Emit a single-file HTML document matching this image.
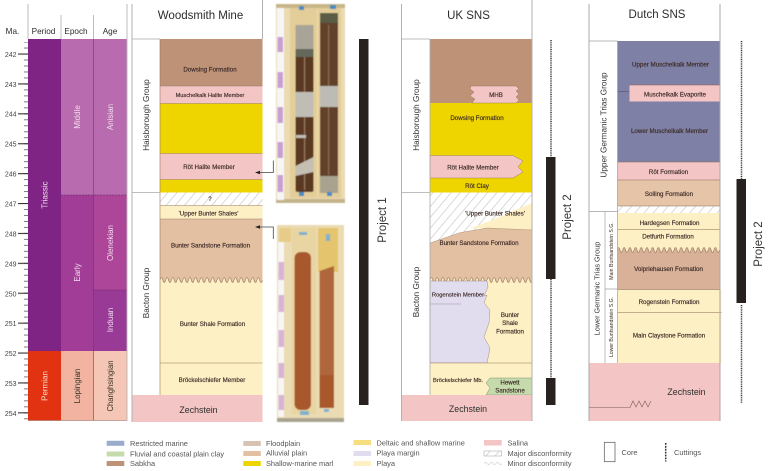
<!DOCTYPE html>
<html><head><meta charset="utf-8"><style>
html,body{margin:0;padding:0;background:#fff}
svg{display:block}
text{font-family:"Liberation Sans",sans-serif}
.f{font-size:6.2px;fill:#3b2a26;text-anchor:middle;stroke:#3b2a26;stroke-width:.15}
.h{font-size:11.5px;fill:#2c2c2c;text-anchor:middle}
.c{font-size:8.2px;fill:#2c2c2c;text-anchor:middle}
.t{font-size:7px;fill:#444;text-anchor:end}
.w{font-size:8px;fill:#f2dcec;text-anchor:middle}
.g{font-size:8.2px;fill:#333;text-anchor:middle}
.p{font-size:11.5px;fill:#333;text-anchor:middle}
.l{font-size:7.4px;fill:#555}
</style></head><body>
<svg width="768" height="471" viewBox="0 0 768 471" xmlns="http://www.w3.org/2000/svg">
<defs>
<pattern id="minor" patternUnits="userSpaceOnUse" width="5" height="5.98" y="54"><rect width="5" height=".8" y="-.4" fill="#555"/><rect width="5" height=".6" y="5.6" fill="#555"/></pattern>
<pattern id="major" patternUnits="userSpaceOnUse" width="10" height="29.9" y="53.5"><rect width="10" height="1.1" fill="#333"/></pattern>
<pattern id="hatch" patternUnits="userSpaceOnUse" width="7" height="7" patternTransform="rotate(40)"><rect width="7" height="7" fill="#fff"/><rect x="0" width=".6" height="7" fill="#c2c2c2"/></pattern>
<pattern id="w1" patternUnits="userSpaceOnUse" width="5.7" height="7" x="160" y="276.5"><rect width="5.7" height="7" fill="#e4c0a3"/><path d="M0 3.5Q1.42 -1.5 2.85 3.5Q4.27 8.5 5.7 3.5V7H0Z" fill="#fdf0c4"/><path d="M0 3.5Q1.42 -1.5 2.85 3.5Q4.27 8.5 5.7 3.5" fill="none" stroke="#8a6a52" stroke-width=".6"/></pattern>
<pattern id="w2" patternUnits="userSpaceOnUse" width="5.7" height="7" x="430" y="276.5"><rect width="5.7" height="7" fill="#e4c0a3"/><path d="M0 3.5Q1.42 -1.5 2.85 3.5Q4.27 8.5 5.7 3.5V7H0Z" fill="#fdf0c4"/><path d="M0 3.5Q1.42 -1.5 2.85 3.5Q4.27 8.5 5.7 3.5" fill="none" stroke="#8a6a52" stroke-width=".6"/></pattern>
<pattern id="w3" patternUnits="userSpaceOnUse" width="5.7" height="7" x="617" y="246.5"><rect width="5.7" height="7" fill="#fdf0c4"/><path d="M0 3.5Q1.42 -1.5 2.85 3.5Q4.27 8.5 5.7 3.5V7H0Z" fill="#d9b199"/><path d="M0 3.5Q1.42 -1.5 2.85 3.5Q4.27 8.5 5.7 3.5" fill="none" stroke="#8a6a52" stroke-width=".6"/></pattern>
<filter id="b" x="-5%" y="-5%" width="110%" height="110%"><feGaussianBlur stdDeviation=".6"/></filter>
</defs>

<!-- Time scale -->
<rect x="24" y="42" width="4" height="378" fill="url(#minor)"/>
<rect x="18" y="53" width="10" height="362" fill="url(#major)"/>
<g class="t">
<text x="16.5" y="57">242</text><text x="16.5" y="87">243</text><text x="16.5" y="116.500">244</text><text x="16.5" y="146.500">245</text><text x="16.500" y="176.500">246</text><text x="16.500" y="206.500">247</text><text x="16.500" y="236.500">248</text><text x="16.500" y="266.500">249</text><text x="16.500" y="296.500">250</text><text x="16.500" y="326">251</text><text x="16.500" y="356">252</text><text x="16.500" y="386">253</text><text x="16.500" y="416">254</text>
</g>
<rect x="28" y="39" width="33" height="312" fill="#7f2484"/>
<rect x="28" y="351" width="33" height="69.500" fill="#e13312"/>
<rect x="61" y="39" width="32.500" height="156" fill="#b86bae"/>
<rect x="61" y="195" width="32.500" height="156" fill="#a13d96"/>
<rect x="61" y="351" width="32.500" height="69.500" fill="#f2b3a0"/>
<rect x="93.500" y="39" width="33.500" height="156" fill="#b86bae"/>
<rect x="93.500" y="195" width="33.500" height="95" fill="#ad4598"/>
<rect x="93.500" y="290" width="33.500" height="61" fill="#993a96"/>
<rect x="93.500" y="351" width="33.500" height="69.500" fill="#f5c5b5"/>
<path d="M61 195H127M93.500 290H127" stroke="#5a2a5a" stroke-width=".6" stroke-dasharray="2 1"/>
<path d="M93.500 39V420.500" stroke="#6e3a6e" stroke-width=".6"/>
<path d="M28 420.500H127" stroke="#8a6a5a" stroke-width=".5"/>
<path d="M28 4V39M61 15V39M93.500 15V39M127 4V421" stroke="#b5b5b5" stroke-width=".9" fill="none"/>
<text class="c" x="12.500" y="34">Ma.</text><text class="c" x="43.500" y="34">Period</text><text class="c" x="76" y="34">Epoch</text><text class="c" x="110" y="34">Age</text>
<text class="w" transform="translate(47.500,195) rotate(-90)">Triassic</text>
<text class="w" transform="translate(80,117) rotate(-90)">Middle</text>
<text class="w" transform="translate(113,117) rotate(-90)">Anisian</text>
<text class="w" transform="translate(80,272.500) rotate(-90)">Early</text>
<text class="w" transform="translate(113,243) rotate(-90)">Olenekian</text>
<text class="w" transform="translate(113,320) rotate(-90)">Induan</text>
<text class="w" style="fill:#fbd9c8" transform="translate(47.500,386) rotate(-90)">Permian</text>
<text class="w" style="fill:#332" transform="translate(80,386) rotate(-90)">Lopingian</text>
<text class="w" style="fill:#332" transform="translate(113,386) rotate(-90)" textLength="51" lengthAdjust="spacingAndGlyphs">Changhsingian</text>

<!-- Woodsmith Mine -->
<text class="h" x="200.500" y="19">Woodsmith Mine</text>
<rect x="160" y="39" width="102.500" height="47" fill="#bd9277"/>
<rect x="160" y="86" width="102.500" height="17.500" fill="#f3c6c5"/>
<rect x="160" y="103.500" width="102.500" height="50" fill="#eed500"/>
<rect x="160" y="153.500" width="102.500" height="26" fill="#f3c6c5"/>
<rect x="160" y="179.500" width="102.500" height="13" fill="#eed500"/>
<rect x="160" y="192.500" width="102.500" height="13" fill="url(#hatch)"/>
<rect x="160" y="205.500" width="102.500" height="13.500" fill="#fdf0c4"/>
<rect x="160" y="219" width="102.500" height="58" fill="#e4c0a3"/>
<rect x="160" y="276.500" width="102.500" height="7" fill="url(#w1)"/>
<rect x="160" y="283" width="102.500" height="112" fill="#fdf0c4"/>
<rect x="132" y="395" width="130.500" height="27" fill="#f3c6c5"/>
<path d="M160 86H262.500M160 103.500H262.500M160 153.500H262.500M160 179.500H262.500M160 205.500H262.500M160 219H262.500M160 363H262.500M160 39V395" stroke="#9a7a62" stroke-width=".6" fill="none"/>
<path d="M132 39H160M132 192.500H160" stroke="#a9a9a9" stroke-width=".8"/>
<path d="M132 4V422M262.500 0V39" stroke="#b0b0b0" stroke-width="1" fill="none"/>
<text class="f" x="210" y="71.500">Dowsing Formation</text>
<text class="f" x="210" y="97" style="font-size:5.600px">Muschelkalk Halite Member</text>
<text class="f" x="209" y="169">Röt Halite Member</text>
<text class="f" x="210" y="201">?</text>
<text class="f" x="208.500" y="215.500">'Upper Bunter Shales'</text>
<text class="f" x="210.500" y="247.500">Bunter Sandstone Formation</text>
<text class="f" x="212.500" y="326">Bunter Shale Formation</text>
<text class="f" x="212" y="382">Bröckelschiefer Member</text>
<text class="h" x="198.500" y="413" style="font-size:8.800px">Zechstein</text>
<text class="g" transform="translate(149,115) rotate(-90)">Haisborough Group</text>
<text class="g" transform="translate(149,293) rotate(-90)">Bacton Group</text>
<path d="M259 172.500H273.300V160.500M259 227H273.300V239" fill="none" stroke="#444" stroke-width=".8"/>
<path d="M255 172.500L260 170.800V174.200ZM255 227L260 225.300V228.700Z" fill="#222"/>

<!-- Core photo top -->
<g filter="url(#b)">
<rect x="276" y="4" width="69" height="199" fill="#eadbb2"/>
<rect x="276" y="4" width="69" height="4" fill="#c9b688"/>
<rect x="276" y="199" width="69" height="4" fill="#c4b48c"/>
<rect x="277" y="8" width="7" height="192" fill="#f8f6f4"/>
<g fill="#c79fd0"><rect x="277.500" y="37" width="5.500" height="15"/><rect x="277.500" y="72" width="5.500" height="16"/><rect x="277.500" y="107" width="5.500" height="16"/><rect x="277.500" y="142" width="5.500" height="16"/><rect x="277.500" y="175" width="5.500" height="17"/></g>
<rect x="290" y="8" width="27" height="190" fill="#e3cd98"/>
<rect x="318" y="8" width="23" height="190" fill="#e3cd98"/>
<rect x="295.500" y="25" width="18" height="167" rx="2" fill="#5a3724"/>
<rect x="320" y="13" width="18" height="180" rx="2" fill="#62402c"/>
<rect x="304" y="50" width="1.200" height="140" fill="#9a7a60"/>
<rect x="328" y="25" width="1.200" height="150" fill="#8f6c50"/>
<rect x="295.500" y="25" width="18" height="24" fill="#aaa498"/>
<rect x="295.500" y="49" width="18" height="8" fill="#64685a"/>
<rect x="295.500" y="92" width="18" height="25" fill="#c0bdb4"/>
<rect x="296" y="135" width="10" height="3" fill="#c0bdb4"/>
<path d="M295.500 166L313.500 157V172L295.500 176Z" fill="#c4bfb2"/>
<rect x="320" y="13" width="18" height="10" fill="#5a5c44"/>
<rect x="320" y="86" width="18" height="21" fill="#bcbcb4"/>
<rect x="320" y="176" width="18" height="17" fill="#a8a28e"/>
<g fill="#4a8ac0"><rect x="299" y="6" width="5" height="4"/><rect x="330" y="5" width="6" height="4"/><rect x="299" y="192" width="5" height="4"/><rect x="327" y="192" width="5" height="4"/></g>
</g>

<!-- Core photo bottom -->
<g filter="url(#b)">
<rect x="277" y="225" width="67" height="197" fill="#eadbb2"/>
<rect x="278" y="242" width="6" height="175" fill="#f8f6f4"/>
<g fill="#d8b3d8"><rect x="278.500" y="262" width="5.500" height="18"/><rect x="278.500" y="295" width="5.500" height="17"/><rect x="278.500" y="330" width="5.500" height="17"/><rect x="278.500" y="363" width="5.500" height="15"/><rect x="278.500" y="395" width="5.500" height="15"/></g>
<rect x="318" y="228" width="20" height="44" fill="#e4c46c"/>
<rect x="279" y="228" width="12" height="14" fill="#e6cc88"/>
<rect x="296" y="243" width="7" height="7" fill="#d89c4a"/>
<rect x="292" y="228" width="24" height="186" fill="#e8d5a2"/>
<rect x="294.500" y="252" width="16.500" height="158" rx="6" fill="#a9592e"/>
<path d="M319.500 271L334 266V408H319.500Z" fill="#b0663a"/>
<rect x="319.500" y="375" width="14.500" height="33" fill="#a8582c"/>
<g fill="#7fb0cf"><rect x="299" y="232" width="8" height="3"/><rect x="326" y="234" width="4" height="7"/><rect x="300" y="411" width="9" height="4"/><rect x="324" y="409" width="5" height="3"/></g>
<rect x="277" y="418" width="67" height="4" fill="#a9a48f"/>
</g>

<!-- Project 1 -->
<rect x="359" y="39" width="9.500" height="366" fill="#272220"/>
<text class="p" transform="translate(386,220) rotate(-90)">Project 1</text>

<!-- UK SNS -->
<text class="h" x="468.500" y="19">UK SNS</text>
<rect x="430" y="39" width="102" height="64" fill="#bd9277"/>
<rect x="430" y="103" width="102" height="90" fill="#eed500"/>
<rect x="430" y="192.500" width="102" height="52" fill="url(#hatch)"/>
<path d="M430 243L460 232.700L487 228L532 230V278H430Z" fill="#e4c0a3"/>
<path d="M532 203L490 221L470 228.500L487 228L532 230Z" fill="#fdf0c4"/>
<path d="M430 243L460 232.700L487 228L532 230" fill="none" stroke="#9a7a62" stroke-width=".4"/>
<rect x="430" y="276.500" width="102" height="7" fill="url(#w2)"/>
<rect x="430" y="283" width="102" height="112" fill="#fdf0c4"/>
<path d="M430 281H487L488 287L484 296L487 295L484 303L490 310L489 323L484 337L490 348L487 363H430Z" fill="#e2dcef" stroke="#8a7a72" stroke-width=".4"/>
<rect x="430" y="363" width="102" height="32" fill="#fdf0c4"/>
<path d="M430 363H532" stroke="#9a7a62" stroke-width=".6"/>
<path d="M430 304H461" stroke="#8f8f9f" stroke-width=".6"/>
<path d="M471 86H516L519 89L516 91L519 94L516 97L519 100L516 103H472L475 99L470 96L474 92L470 89Z" fill="#f3c6c5" stroke="#8a6a52" stroke-width=".4"/>
<path d="M430 155.500H513L523 161L518 167L523 172L513 178H430Z" fill="#f3c6c5" stroke="#8a6a52" stroke-width=".4"/>
<path d="M490 378L486 383L490 388L486 395H532V378Z" fill="#c5dbac" stroke="#6a7a5a" stroke-width=".4"/>
<rect x="401.500" y="395" width="130.500" height="26" fill="#f3c6c5"/>
<path d="M430 39V395M402 39H430M402 192.500H430" stroke="#a9a9a9" stroke-width=".8" fill="none"/>
<path d="M401.500 4V421M532 0V421" stroke="#b0b0b0" stroke-width="1" fill="none"/>
<text class="f" x="496" y="97">MHB</text>
<text class="f" x="477" y="120">Dowsing Formation</text>
<text class="f" x="473" y="169.500">Röt Halite Member</text>
<text class="f" x="477" y="188">Röt Clay</text>
<text class="f" x="495" y="215.500">'Upper Bunter Shales'</text>
<text class="f" x="479" y="245">Bunter Sandstone Formation</text>
<text class="f" x="458" y="296.500" style="font-size:5.800px">Rogenstein Member</text>
<text class="f" x="510" y="317">Bunter</text><text class="f" x="510" y="325">Shale</text><text class="f" x="510" y="333.500">Formation</text>
<text class="f" x="458" y="382" style="font-size:5.700px">Bröckelschiefer Mb.</text>
<text class="f" x="510" y="384.500">Hewett</text><text class="f" x="510" y="392.500">Sandstone</text>
<text class="h" x="468" y="412" style="font-size:8.800px">Zechstein</text>
<text class="g" transform="translate(419,115) rotate(-90)">Haisborough Group</text>
<text class="g" transform="translate(419,292) rotate(-90)">Bacton Group</text>

<!-- UK Project 2 -->
<rect x="546" y="157" width="9.500" height="122" fill="#272220"/>
<rect x="546" y="378" width="9.500" height="27" fill="#272220"/>
<path d="M551 40V157M551 279V378" stroke="#333" stroke-width="1.500" stroke-dasharray="1 .8"/>
<text class="p" transform="translate(571,217) rotate(-90)">Project 2</text>

<!-- Dutch SNS -->
<text class="h" x="657" y="18">Dutch SNS</text>
<rect x="617.500" y="41" width="102.500" height="121" fill="#7f80a5"/>
<path d="M617.500 91.500H630" stroke="#5a5a80" stroke-width=".7"/>
<rect x="629.500" y="85" width="90.500" height="16.500" fill="#f3c6c5"/>
<path d="M629.500 85H720" stroke="#8a5a5a" stroke-width=".5"/>
<rect x="617.500" y="162" width="102.500" height="18" fill="#f3c6c5"/>
<rect x="617.500" y="180" width="102.500" height="26" fill="#e6c4a8"/>
<rect x="617.500" y="206" width="102.500" height="7" fill="url(#hatch)"/>
<rect x="617.500" y="213" width="102.500" height="34" fill="#fdf0c4"/>
<rect x="617.500" y="246.500" width="102.500" height="7" fill="url(#w3)"/>
<rect x="617.500" y="253" width="102.500" height="36.500" fill="#d9b199"/>
<rect x="617.500" y="289.500" width="104" height="73.500" fill="#fdf0c4"/>
<path d="M617.500 162H720M617.500 180H720M617.500 206H720M617.500 229.500H720M617.500 289.500H720M617.500 312.500H721.500" stroke="#8a6a52" stroke-width=".6"/>
<rect x="589" y="363" width="131" height="58" fill="#f3c6c5"/>
<path d="M617.500 41V363M589 41H617.500M589 211.500H617.500M605 211.500V363M605 289H617.500" stroke="#a0a0a0" stroke-width=".7" fill="none"/>
<path d="M589 4V421M720 4V363" stroke="#a8a8a8" stroke-width="1" fill="none"/>
<path d="M720 363V421" stroke="#b5a0a0" stroke-width="1"/>
<path d="M589 407.500H630L633 401L636 407L639 401L642 407L645 401L648 407L651 401" fill="none" stroke="#7a5a55" stroke-width=".6"/>
<text class="f" x="670.500" y="66.500">Upper Muschelkalk Member</text>
<text class="f" x="675" y="96.500">Muschelkalk Evaporite</text>
<text class="f" x="669.500" y="133">Lower Muschelkalk Member</text>
<text class="f" x="668.500" y="174">Röt Formation</text>
<text class="f" x="669" y="196">Solling Formation</text>
<text class="f" x="669.500" y="225">Hardegsen Formation</text>
<text class="f" x="668" y="238.500">Detfurth Formation</text>
<text class="f" x="668.500" y="271">Volpriehausen Formation</text>
<text class="f" x="669" y="304">Rogenstein Formation</text>
<text class="f" x="669" y="337.500">Main Claystone Formation</text>
<text class="h" x="686.500" y="395" style="font-size:8.800px">Zechstein</text>
<text class="g" transform="translate(606.500,125) rotate(-90)">Upper Germanic Trias Group</text>
<text class="g" transform="translate(599.500,288.500) rotate(-90)" style="font-size:7.300px">Lower Germanic Trias Group</text>
<text class="f" style="font-size:5.200px;stroke:none" transform="translate(613,251) rotate(-90)">Main Buntsandstein S.G.</text>
<text class="f" style="font-size:5.200px;stroke:none" transform="translate(613,327) rotate(-90)">Lower Buntsandstein S.G.</text>

<!-- Dutch Project 2 -->
<rect x="736.500" y="179" width="9.500" height="124" fill="#272220"/>
<path d="M741.500 41V179M741.500 305V403" stroke="#333" stroke-width="1.500" stroke-dasharray="1 .8"/>
<text class="p" transform="translate(762,244) rotate(-90)">Project 2</text>

<!-- Legend -->
<rect x="106.700" y="440.800" width="17.600" height="5" fill="#9aaccb"/>
<rect x="106.700" y="451.500" width="17.600" height="5" fill="#c5dbac"/>
<rect x="106.700" y="461" width="17.600" height="5" fill="#bd9277"/>
<text class="l" x="130" y="446">Restricted marine</text>
<text class="l" x="130" y="456.500">Fluvial and coastal plain clay</text>
<text class="l" x="130" y="466">Sabkha</text>
<rect x="243.300" y="441" width="17.500" height="5" fill="#d8c3b3"/>
<rect x="243.300" y="451" width="17.500" height="5" fill="#e4c0a3"/>
<rect x="243.300" y="461" width="17.500" height="5" fill="#eed500"/>
<text class="l" x="266" y="446">Floodplain</text>
<text class="l" x="266" y="455.500">Alluvial plain</text>
<text class="l" x="266" y="466">Shallow-marine marl</text>
<rect x="353.500" y="440" width="17.500" height="5" fill="#f6dd7e"/>
<rect x="353.500" y="451" width="17.500" height="5" fill="#e2dcef"/>
<rect x="353.500" y="461" width="17.500" height="5" fill="#fdf0c4"/>
<text class="l" x="376.500" y="445.500">Deltaic and shallow marine</text>
<text class="l" x="376.500" y="455.500">Playa margin</text>
<text class="l" x="376.500" y="466">Playa</text>
<rect x="484" y="440" width="17.700" height="5.500" fill="#f3c6c5"/>
<rect x="484" y="451" width="17.700" height="5" fill="url(#hatch)" stroke="#888" stroke-width=".4"/>
<path d="M484 463.500q1.500 -2 3 0t3 0t3 0t3 0t3 0t3 0" fill="none" stroke="#aaa" stroke-width=".5"/>
<text class="l" x="507.500" y="445.500">Salina</text>
<text class="l" x="507.500" y="456">Major disconformity</text>
<text class="l" x="507.500" y="466">Minor disconformity</text>
<rect x="604.300" y="442.300" width="10.700" height="19.400" fill="#fff" stroke="#555" stroke-width=".7"/>
<text class="l" x="621.500" y="455">Core</text>
<path d="M665.700 443V461.500" stroke="#333" stroke-width="1.500" stroke-dasharray="1.800 1.100"/>
<text class="l" x="674" y="455">Cuttings</text>
</svg>
</body></html>
